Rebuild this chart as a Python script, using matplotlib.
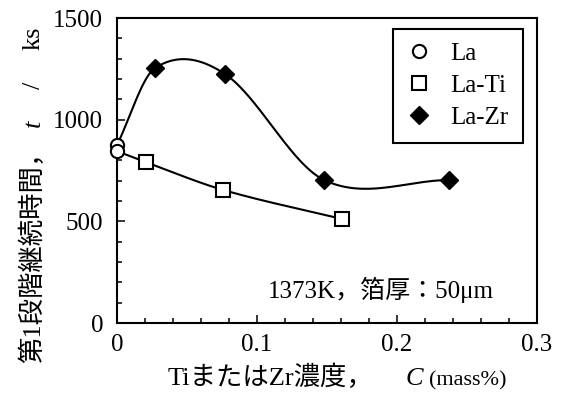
import numpy as np
import matplotlib
matplotlib.use('Agg')
import matplotlib.pyplot as plt
from matplotlib.transforms import IdentityTransform

plt.rcParams['font.family'] = ['Liberation Serif', 'Noto Sans CJK JP']
plt.rcParams['font.size'] = 18

# data
la_x = [0.0, 0.0]
la_y = [875, 845]
ti_x = [0.021, 0.076, 0.161]
ti_y = [790, 654, 511]
zr_x = [0.027, 0.077, 0.148, 0.237]
zr_y = [1253, 1225, 703, 703]


def smooth(x, y, n=60):
    # Catmull-Rom style cubic Hermite through the points
    x = np.asarray(x, float)
    y = np.asarray(y, float)
    m = np.zeros(len(x))
    m[0] = (y[1] - y[0]) / (x[1] - x[0])
    m[-1] = (y[-1] - y[-2]) / (x[-1] - x[-2])
    m[1:-1] = (y[2:] - y[:-2]) / (x[2:] - x[:-2])
    xs_all, ys_all = [], []
    for i in range(len(x) - 1):
        h = x[i + 1] - x[i]
        t = np.linspace(0, 1, n)
        h00 = 2 * t**3 - 3 * t**2 + 1
        h10 = t**3 - 2 * t**2 + t
        h01 = -2 * t**3 + 3 * t**2
        h11 = t**3 - t**2
        xs_all.append(x[i] + t * h)
        ys_all.append(h00 * y[i] + h10 * h * m[i] + h01 * y[i + 1] + h11 * h * m[i + 1])
    return np.concatenate(xs_all), np.concatenate(ys_all)


def label_pieces(fig, pieces, x0, y0, vertical=False):
    # lay out a label made of several styled pieces, in pixel coordinates
    renderer = fig.canvas.get_renderer()
    pos = y0 if vertical else x0
    for s, gap, props in pieces:
        pos += gap
        if vertical:
            t = fig.text(x0, pos, s, transform=IdentityTransform(), rotation=90,
                         rotation_mode='anchor', ha='left', va='baseline', **props)
            pos += t.get_window_extent(renderer).height
        else:
            t = fig.text(pos, y0, s, transform=IdentityTransform(),
                         ha='left', va='baseline', **props)
            pos += t.get_window_extent(renderer).width


fig = plt.figure(figsize=(5.71, 3.94), dpi=100)
ax = fig.add_axes([0.2049, 0.1802, 0.7356, 0.7741])

xs, ys = smooth([la_x[0]] + zr_x, [la_y[0]] + zr_y)
ax.plot(xs, ys, color='black', lw=1.5, zorder=2)
xs, ys = smooth([la_x[1]] + ti_x, [la_y[1]] + ti_y)
ax.plot(xs, ys, color='black', lw=1.5, zorder=2)

ax.plot(la_x, la_y, 'o', ms=9.5, mfc='white', mec='black', mew=1.5,
        label='La', zorder=4, clip_on=False)
ax.plot(ti_x, ti_y, 's', ms=10, mfc='white', mec='black', mew=1.5,
        label='La-Ti', zorder=3)
ax.plot(zr_x, zr_y, 'D', ms=8.7, mfc='black', mec='black',
        label='La-Zr', zorder=3)

ax.set_xlim(0, 0.3)
ax.set_ylim(0, 1500)
ax.set_xticks([0, 0.1, 0.2, 0.3])
ax.set_xticklabels(['0', '0.1', '0.2', '0.3'])
ax.set_xticks(np.arange(0, 0.3, 0.02), minor=True)
ax.set_yticks([0, 500, 1000, 1500])
ax.set_yticks(np.arange(0, 1500, 100), minor=True)
ax.tick_params(which='both', direction='in', width=1.1, labelsize=18)
ax.tick_params(axis='y', pad=10)
ax.tick_params(axis='x', pad=8)
ax.tick_params(which='major', length=6)
ax.tick_params(which='minor', length=3.5)
for s in ax.spines.values():
    s.set_linewidth(1.5)

ax.text(0.108, 162, '1373K，箔厚：50μm', fontsize=18, ha='left', va='center')

leg = ax.legend(loc='upper left', bbox_to_anchor=(0.657, 0.964), borderaxespad=0,
                fancybox=False, edgecolor='black', framealpha=1,
                fontsize=18, handletextpad=0.76, borderpad=0.55,
                labelspacing=0.38, handlelength=1.0)
leg.get_frame().set_linewidth(1.5)

# axis labels built from pieces (upright CJK text with italic symbols)
it = {'fontsize': 19, 'style': 'italic'}
rm = {'fontsize': 19}
label_pieces(fig, [('TiまたはZr濃度，', 0, rm),
                   ('C', 32, it),
                   ('(mass%)', 6, {'fontsize': 16})], 168, 9)
label_pieces(fig, [('第1段階継続時間，', 0, rm),
                   ('t', 12, it),
                   ('/', 30, rm),
                   ('ks', 32, rm)], 40, 31, vertical=True)

fig.savefig('out.png', dpi=100)
